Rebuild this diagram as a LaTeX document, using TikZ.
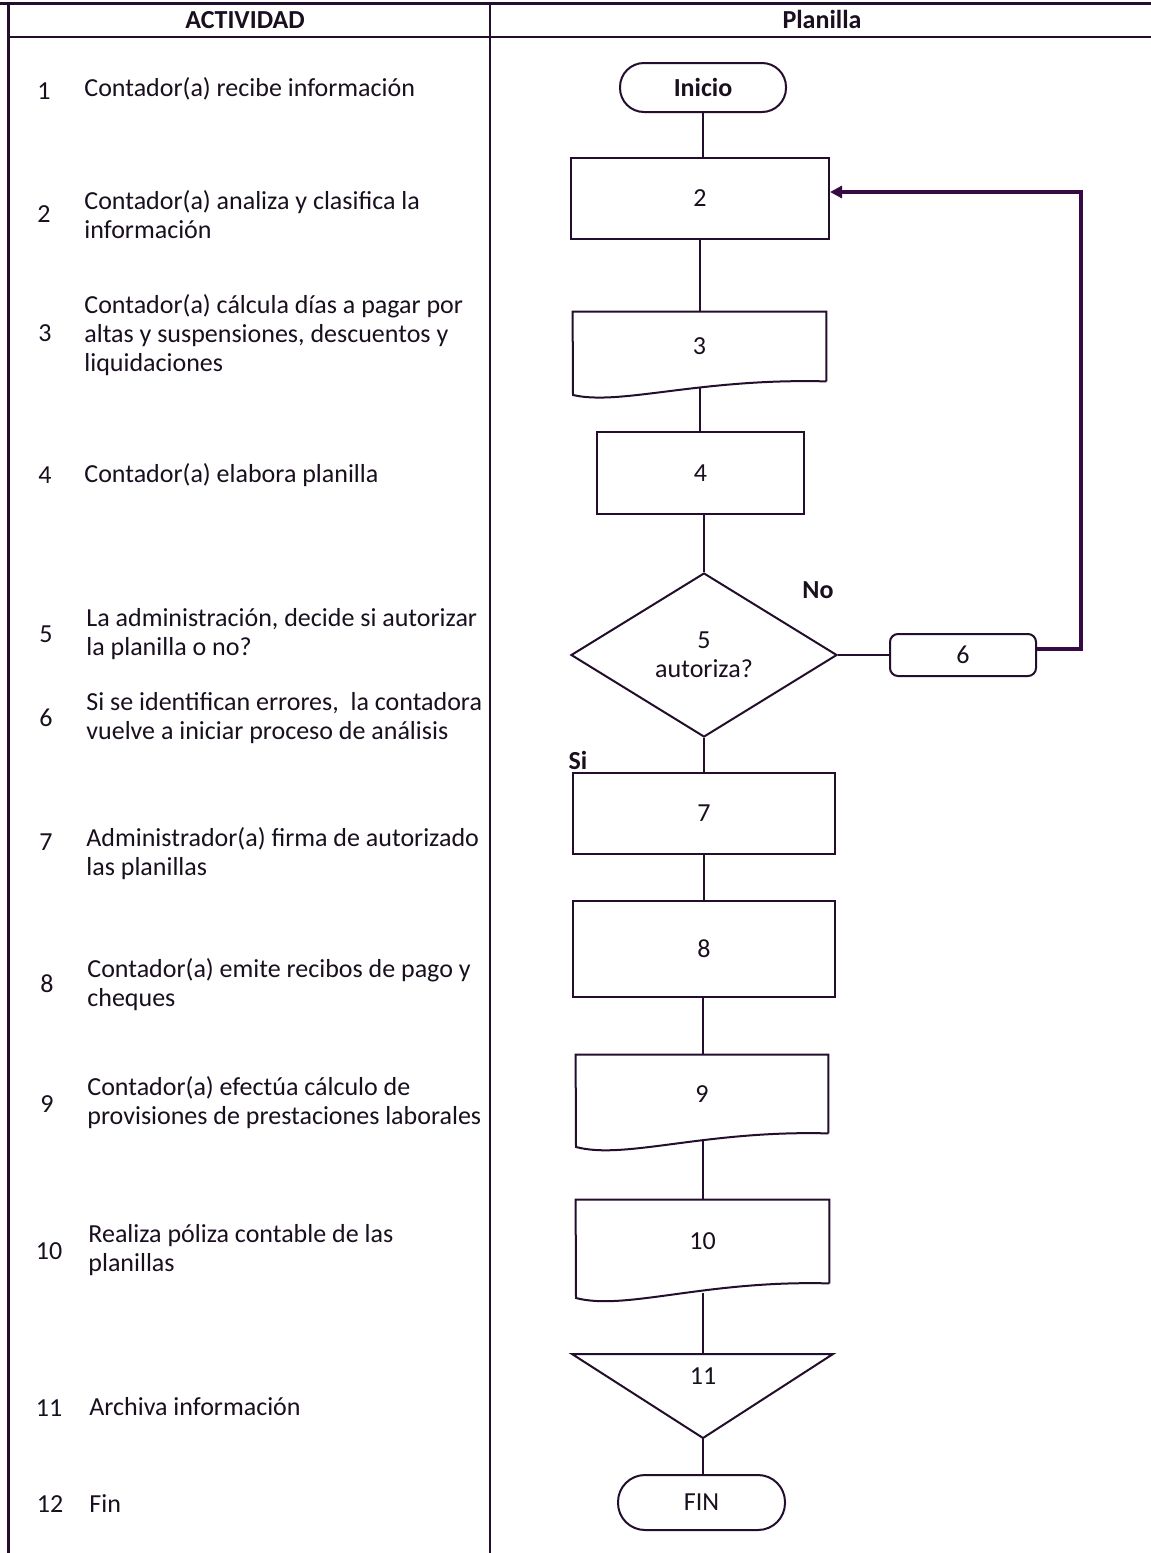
\documentclass[tikz,border=0pt]{standalone}
\usepackage{fontspec}
\setmainfont{Carlito}
\usetikzlibrary{shapes.geometric,arrows.meta}
\definecolor{ink}{RGB}{25,15,30}
\definecolor{lin}{RGB}{35,15,45}
\definecolor{loopc}{RGB}{55,10,70}
\begin{document}
\begin{tikzpicture}[x=0.5pt,y=-0.5pt,
  every node/.style={text=ink,font=\fontsize{13pt}{14.5pt}\selectfont},
  boxx/.style={draw=lin,line width=1pt,rectangle,inner sep=0pt},
  docu/.style={rectangle,inner sep=0pt},
  term/.style={draw=lin,line width=1pt,rectangle,rounded corners=12pt,inner sep=0pt,font=\fontsize{13pt}{14.5pt}\selectfont\bfseries},
  conn/.style={draw=lin,line width=1pt},
  loopline/.style={draw=loopc,line width=1.7pt,-{Triangle[length=6pt,width=6pt]}},
  num/.style={anchor=center},
  act/.style={anchor=west,align=left,inner sep=0pt},
  hdr/.style={font=\fontsize{13pt}{14.5pt}\selectfont\bfseries},
  lbl/.style={font=\fontsize{13pt}{14.5pt}\selectfont\bfseries}]
\useasboundingbox[fill=white] (0,0) rectangle (1151,1553);
% table lines
\draw[lin,line width=1.5pt] (0,3) -- (1151,3);
\draw[lin,line width=1.5pt] (8,3) -- (8,1553);
\draw[lin,line width=1pt] (490,3) -- (490,1553);
\draw[lin,line width=1pt] (8,37) -- (1151,37);
% headers
\node[hdr] (h1) at (245,20) {ACTIVIDAD};
\node[hdr] (h2) at (822,19) {Planilla};
% left column
\node[num] (n1) at (44,91) {1};
\node[act] (a1) at (84,89) {Contador(a) recibe información};
\node[num] (n2) at (44,214) {2};
\node[act] (a2) at (84,215) {Contador(a) analiza y clasifica la\\información};
\node[num] (n3) at (45,333) {3};
\node[act] (a3) at (84,335) {Contador(a) cálcula días a pagar por\\altas y suspensiones, descuentos y\\liquidaciones};
\node[num] (n4) at (45,475) {4};
\node[act] (a4) at (84,475) {Contador(a) elabora planilla};
\node[num] (n5) at (46,634) {5};
\node[act] (a5) at (86,634) {La administración, decide si autorizar\\la planilla o no?};
\node[num] (n6) at (46,718) {6};
\node[act] (a6) at (86,718) {Si se identifican errores,\ \ la contadora\\vuelve a iniciar proceso de análisis};
\node[num] (n7) at (46,842) {7};
\node[act] (a7) at (86,854) {Administrador(a) firma de autorizado\\las planillas};
\node[num] (n8) at (47,984) {8};
\node[act] (a8) at (87,985) {Contador(a) emite recibos de pago y\\cheques};
\node[num] (n9) at (47,1104) {9};
\node[act] (a9) at (87,1103) {Contador(a) efectúa cálculo de\\provisiones de prestaciones laborales};
\node[num] (n10) at (49,1251) {10};
\node[act] (a10) at (88,1250) {Realiza póliza contable de las\\planillas};
\node[num] (n11) at (49,1408) {11};
\node[act] (a11) at (89,1407) {Archiva información};
\node[num] (n12) at (50,1504) {12};
\node[act] (a12) at (89,1504) {Fin};
% flowchart nodes
\node[term,minimum width=83pt,minimum height=24.5pt] (ini) at (703,87.5) {Inicio};
\node[boxx,minimum width=129pt,minimum height=40.5pt] (b2) at (700,198.5) {2};
\node[docu,minimum width=126.5pt,minimum height=34.5pt] (b3) at (699.5,346.5) {3};
\draw[lin,line width=1pt] (b3.south east) -- (b3.north east) -- (b3.north west) -- (573,395)
  .. controls (620,406) and (700,378) .. (b3.south east);
\coordinate (b3w) at (700,388);
\node[boxx,minimum width=103.5pt,minimum height=41pt] (b4) at (700.5,473) {4};
\node[draw=lin,line width=1pt,diamond,aspect=1.62,minimum width=133pt,minimum height=82pt,inner sep=0pt,align=center] (d5) at (704,655) {5\\autoriza?};
\node[boxx,rounded corners=4pt,minimum width=73pt,minimum height=21pt] (b6) at (963,655) {6};
\node[boxx,minimum width=131pt,minimum height=40.5pt] (b7) at (704,813.5) {7};
\node[boxx,minimum width=131pt,minimum height=48pt] (b8) at (704,949) {8};
\node[docu,minimum width=126pt,minimum height=39pt] (b9) at (702,1094) {9};
\draw[lin,line width=1pt] (b9.south east) -- (b9.north east) -- (b9.north west) -- (576,1147)
  .. controls (625,1160) and (705,1130) .. (b9.south east);
\coordinate (b9w) at (703,1141);
\node[docu,minimum width=126.5pt,minimum height=41.5pt] (b10) at (702.5,1241.5) {10};
\draw[lin,line width=1pt] (b10.south east) -- (b10.north east) -- (b10.north west) -- (576,1298)
  .. controls (625,1311) and (705,1280) .. (b10.south east);
\coordinate (b10w) at (703,1293);
\coordinate (t11top) at (703,1354);
\coordinate (t11bot) at (703,1438);
\draw[lin,line width=1pt] (572,1354) -- (833,1354) -- (t11bot) -- cycle;
\node (t11) at (703,1376) {11};
\node[term,font=\fontsize{13pt}{14.5pt}\selectfont,rounded corners=13.5pt,minimum width=83.5pt,minimum height=27.5pt] (fin) at (701.5,1502.5) {FIN};
% branch labels
\node[lbl] (no) at (818,590) {No};
\node[lbl] (si) at (578,760) {Si};
% connectors
\draw[conn] (ini.south) -- (ini.south |- b2.north);
\draw[conn] (b2.south) -- (b2.south |- b3.north);
\draw[conn] (b3w) -- (b3w |- b4.north);
\draw[conn] (d5.north |- b4.south) -- (d5.north);
\draw[conn] (d5.east) -- (b6.west);
\coordinate (lp) at (1081,192);
\draw[loopline] ([yshift=3pt]b6.east) -| (lp) -- (b2.east |- lp);
\draw[conn] (d5.south) -- (d5.south |- b7.north);
\draw[conn] (b7.south) -- (b7.south |- b8.north);
\draw[conn] (b8.south -| b9w) -- (b9w |- b9.north);
\draw[conn] (b9w) -- (b9w |- b10.north);
\draw[conn] (b10w) -- (t11top);
\draw[conn] (t11bot) -- (t11bot |- fin.north);
\end{tikzpicture}
\end{document}
